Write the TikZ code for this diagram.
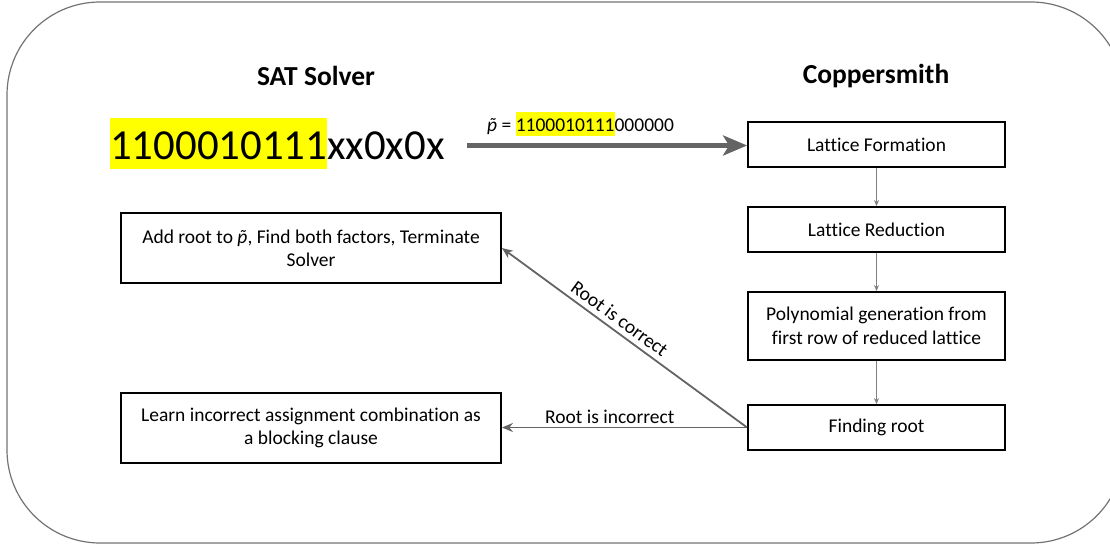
\documentclass[tikz,border=0pt]{standalone}
\usepackage{fontspec}
\setmainfont{Carlito}[Ligatures=NoCommon]
\usetikzlibrary{arrows.meta,calc}
\definecolor{hlyellow}{RGB}{255,255,0}
\definecolor{arrgray}{RGB}{100,100,100}
\definecolor{thingray}{RGB}{128,128,128}
\definecolor{bordergray}{RGB}{115,115,115}
\newcommand{\hlt}[1]{{\setlength{\fboxsep}{0pt}\colorbox{hlyellow}{\rule[-0.22em]{0pt}{1.18em}#1}}}
\newcommand{\ptil}{\textit{\accent"02DC p}}
\begin{document}
\begin{tikzpicture}[x=1pt,y=-1pt,
  rbox/.style={draw=black, line width=1.8pt, minimum width=257pt, minimum height=45pt, inner sep=0pt, align=center, font=\fontsize{19.5}{23.5}\selectfont},
  lbox/.style={draw=black, line width=1.8pt, minimum width=380pt, minimum height=70pt, inner sep=0pt, align=center, font=\fontsize{19.5}{23}\selectfont},
  header/.style={font=\bfseries\fontsize{27.5}{32}\selectfont, inner sep=0pt},
  flow/.style={draw=thingray, line width=1pt, -{Stealth[length=6pt,width=5pt]}},
  conn/.style={draw=arrgray, line width=1.8pt, -{Stealth[length=11pt,width=9pt]}},
  bigarrow/.style={draw=arrgray, line width=4.5pt, -{Stealth[length=24pt,width=20pt,inset=6pt]}},
  lbl/.style={font=\fontsize{19.5}{23}\selectfont, inner sep=0pt}
]
\useasboundingbox (0,0) rectangle (1110,545);
\draw[bordergray, line width=1.2pt, rounded corners=93pt] (7,2) rectangle (1124,543);

\node[header] (sat) at (316,76) {SAT Solver};
\node[header] (cs) at (876,76) {Coppersmith};

\node[anchor=west, inner sep=0pt, font=\fontsize{42.8}{51}\selectfont] (bits) at (110,143.5) {\hlt{1100010111}xx0x0x};

\node[rbox] (lf) at (876.5,144.5) {Lattice Formation};
\node[rbox] (lr) at (876.5,229.5) {Lattice Reduction};
\node[rbox, minimum height=68pt] (pg) at (876.5,326) {Polynomial generation from\\first row of reduced lattice};
\node[rbox] (fr) at (876.5,427.5) {Finding root};

\node[lbox] (ar) at (311,248) {Add root to \ptil, Find both factors, Terminate\\Solver};
\node[lbox] (li) at (311,428) {Learn incorrect assignment combination as\\a blocking clause};

\coordinate (bstart) at ($(bits.east)+(22,2)$);
\draw[bigarrow] (bstart) -- (bstart -| lf.west);
\node[lbl, anchor=west] (ptilde) at (487,124) {\ptil{} = \hlt{1100010111}000000};

\draw[flow] (lf.south) -- (lr.north);
\draw[flow] (lr.south) -- (pg.north);
\draw[flow] (pg.south) -- (fr.north);

\draw[conn, {Stealth[length=11pt,width=9pt]}-] (ar.east) -- node[lbl, sloped, above=5pt, pos=0.45] {Root is correct} (fr.west);
\draw[conn] (fr.west) -- node[lbl, above=3pt, pos=0.56] {Root is incorrect} (fr.west -| li.east);
\end{tikzpicture}
\end{document}
